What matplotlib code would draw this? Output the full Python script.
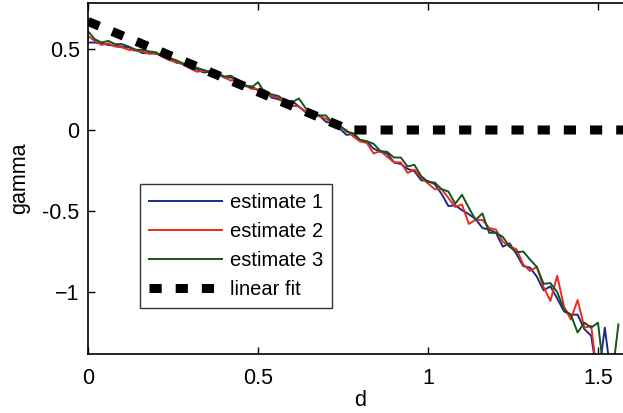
import matplotlib
matplotlib.use('Agg')
import matplotlib.pyplot as plt
import numpy as np

plt.rcParams['font.family'] = ['Liberation Sans', 'DejaVu Sans']

# sample positions of the estimates
d = np.arange(79) * 0.02

est1 = [0.54, 0.54, 0.535, 0.525, 0.52, 0.515, 0.51, 0.495, 0.475, 0.475,
        0.47, 0.46, 0.44, 0.415, 0.41, 0.385, 0.375, 0.355, 0.36, 0.345,
        0.325, 0.325, 0.30, 0.27, 0.27, 0.245, 0.245, 0.20, 0.19, 0.17,
        0.18, 0.145, 0.11, 0.095, 0.09, 0.05, 0.04, 0.01, -0.03, -0.025,
        -0.065, -0.07, -0.115, -0.135, -0.145, -0.20, -0.21, -0.24, -0.255, -0.31,
        -0.315, -0.335, -0.395, -0.47, -0.465, -0.495, -0.52, -0.55, -0.605, -0.615,
        -0.635, -0.72, -0.70, -0.765, -0.84, -0.85, -0.905, -0.99, -0.965, -1.04,
        -1.12, -1.14, -1.14, -1.23, -1.27, -1.55, -1.22, -1.55, np.nan]

est2 = [0.58, 0.55, 0.525, 0.535, 0.515, 0.51, 0.495, 0.49, 0.485, 0.47,
        0.475, 0.45, 0.43, 0.42, 0.405, 0.38, 0.36, 0.365, 0.365, 0.35,
        0.325, 0.305, 0.31, 0.28, 0.255, 0.25, 0.22, 0.21, 0.20, 0.16,
        0.15, 0.145, 0.115, 0.085, 0.085, 0.07, 0.035, 0.02, 0.0, -0.04,
        -0.07, -0.08, -0.145, -0.13, -0.165, -0.20, -0.20, -0.265, -0.245, -0.295,
        -0.33, -0.365, -0.365, -0.42, -0.475, -0.46, -0.58, -0.555, -0.555, -0.605,
        -0.615, -0.69, -0.72, -0.735, -0.83, -0.87, -0.845, -0.97, -1.055, -0.90,
        -1.09, -1.17, -1.05, -1.22, -1.21, -1.56, np.nan, np.nan, np.nan]

est3 = [0.61, 0.56, 0.54, 0.55, 0.53, 0.53, 0.515, 0.495, 0.495, 0.485,
        0.48, 0.455, 0.445, 0.43, 0.41, 0.39, 0.385, 0.37, 0.355, 0.355,
        0.33, 0.335, 0.31, 0.28, 0.26, 0.295, 0.23, 0.22, 0.21, 0.18,
        0.17, 0.195, 0.135, 0.105, 0.09, 0.09, 0.04, 0.03, -0.01, -0.02,
        -0.06, -0.07, -0.085, -0.13, -0.135, -0.17, -0.17, -0.225, -0.215, -0.285,
        -0.32, -0.325, -0.365, -0.38, -0.455, -0.40, -0.48, -0.555, -0.515, -0.635,
        -0.635, -0.66, -0.72, -0.755, -0.75, -0.80, -0.845, -0.95, -0.945, -1.00,
        -1.11, -1.14, -1.25, -1.19, -1.22, -1.19, -1.55, -1.55, -1.20]

fit_d = [0.0, 0.77, 1.62]
fit_gamma = [0.67, 0.0, 0.0]

fig = plt.figure(figsize=(6.23, 4.13), dpi=100)
ax = fig.add_axes([88 / 623, 59 / 413, 544 / 623, 351 / 413])

ax.plot(d, est1, color='#1c2a8c', lw=1.4, label='estimate 1')
ax.plot(d, est2, color='#f0281e', lw=1.4, label='estimate 2')
ax.plot(d, est3, color='#17561a', lw=1.4, label='estimate 3')
ax.plot(fit_d, fit_gamma, color='black', lw=6.5, dashes=(1.35, 1.55),
        dash_capstyle='butt', label='linear fit')

ax.set_xlim(0, 1.6)
ax.set_ylim(-1.383, 0.784)
ax.set_xticks([0, 0.5, 1, 1.5])
ax.set_xticklabels(['0', '0.5', '1', '1.5'])
ax.set_yticks([-1, -0.5, 0, 0.5])
ax.set_yticklabels(['\u22121', '-0.5', '0', '0.5'])
ax.tick_params(direction='in', length=5, width=1, top=True, right=True,
               labelsize=15.5)
ax.tick_params(axis='x', pad=10)
ax.tick_params(axis='y', pad=6)
for s in ax.spines.values():
    s.set_linewidth(1.2)

ax.set_xlabel('d', fontsize=15.5, labelpad=1)
ax.set_ylabel('gamma', fontsize=15.5, labelpad=9)

leg = ax.legend(loc='lower left', bbox_to_anchor=(0.0956, 0.131), fontsize=14.5,
                frameon=True, fancybox=False, edgecolor='black',
                handlelength=3.6, handletextpad=0.4, labelspacing=0.5,
                borderpad=0.45, borderaxespad=0)
leg.get_frame().set_linewidth(1.0)

fig.savefig('out.png', dpi=100)
